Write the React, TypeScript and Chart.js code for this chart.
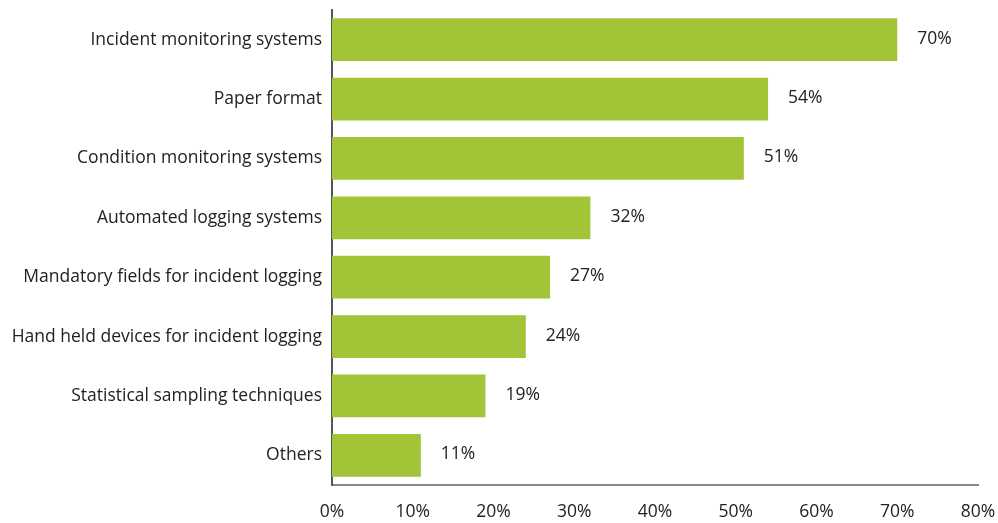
import React, { useEffect, useRef } from "react";
import { Chart, registerables } from "chart.js";

Chart.register(...registerables);

const categories = [
  "Incident monitoring systems",
  "Paper format",
  "Condition monitoring systems",
  "Automated logging systems",
  "Mandatory fields for incident logging",
  "Hand held devices for incident logging",
  "Statistical sampling techniques",
  "Others",
];
const values = [70, 54, 51, 32, 27, 24, 19, 11];
const xTicks = [0, 10, 20, 30, 40, 50, 60, 70, 80];

const FONT = "'Open Sans', 'Noto Sans', sans-serif";
const SIZE = 17.5;

const valueLabels = {
  id: "valueLabels",
  afterDatasetsDraw(chart: any) {
    const ctx = chart.ctx;
    const meta = chart.getDatasetMeta(0);
    ctx.save();
    ctx.font = `${SIZE}px ${FONT}`;
    ctx.fillStyle = "#222222";
    ctx.textAlign = "left";
    ctx.textBaseline = "middle";
    meta.data.forEach((bar: any, i: number) => {
      ctx.fillText(values[i] + "%", bar.x + 20, bar.y - 1);
    });
    ctx.restore();
  },
};

export default function App() {
  const ref = useRef<HTMLCanvasElement>(null);
  useEffect(() => {
    if (!ref.current) return;
    const chart = new Chart(ref.current, {
      type: "bar",
      data: {
        labels: categories,
        datasets: [
          {
            data: values,
            backgroundColor: "#a2c437",
            barPercentage: 0.9,
            categoryPercentage: 0.8,
          },
        ],
      },
      options: {
        indexAxis: "y",
        animation: false,
        responsive: false,
        maintainAspectRatio: false,
        layout: { padding: { top: 10, right: 20, left: 0, bottom: 0 } },
        plugins: { legend: { display: false }, tooltip: { enabled: false } },
        scales: {
          x: {
            min: 0,
            max: 80,
            afterBuildTicks: (s: any) => {
              s.ticks = xTicks.map((v) => ({ value: v }));
            },
            afterFit: (s: any) => {
              s.height = 38;
              s.paddingLeft = 0;
              s.paddingRight = 0;
            },
            grid: { display: false, drawTicks: false },
            border: { display: true, color: "#888888", width: 2 },
            ticks: {
              padding: 17,
              color: "#222222",
              font: { family: FONT, size: SIZE },
              callback: (v: any) => v + "%",
              maxRotation: 0,
            },
          },
          y: {
            afterFit: (s: any) => {
              s.width = 332;
              s.paddingTop = 0;
              s.paddingBottom = 0;
            },
            grid: { display: false, drawTicks: false },
            border: { display: true, color: "#555555", width: 2 },
            ticks: {
              padding: 10,
              color: "#222222",
              font: { family: FONT, size: SIZE },
            },
          },
        },
      },
      plugins: [valueLabels],
    });
    return () => chart.destroy();
  }, []);
  return (
    <div style={{ position: "fixed", left: 0, top: 0, width: 998, height: 523, background: "#fff" }}>
      <canvas ref={ref} width={998} height={523} />
    </div>
  );
}
